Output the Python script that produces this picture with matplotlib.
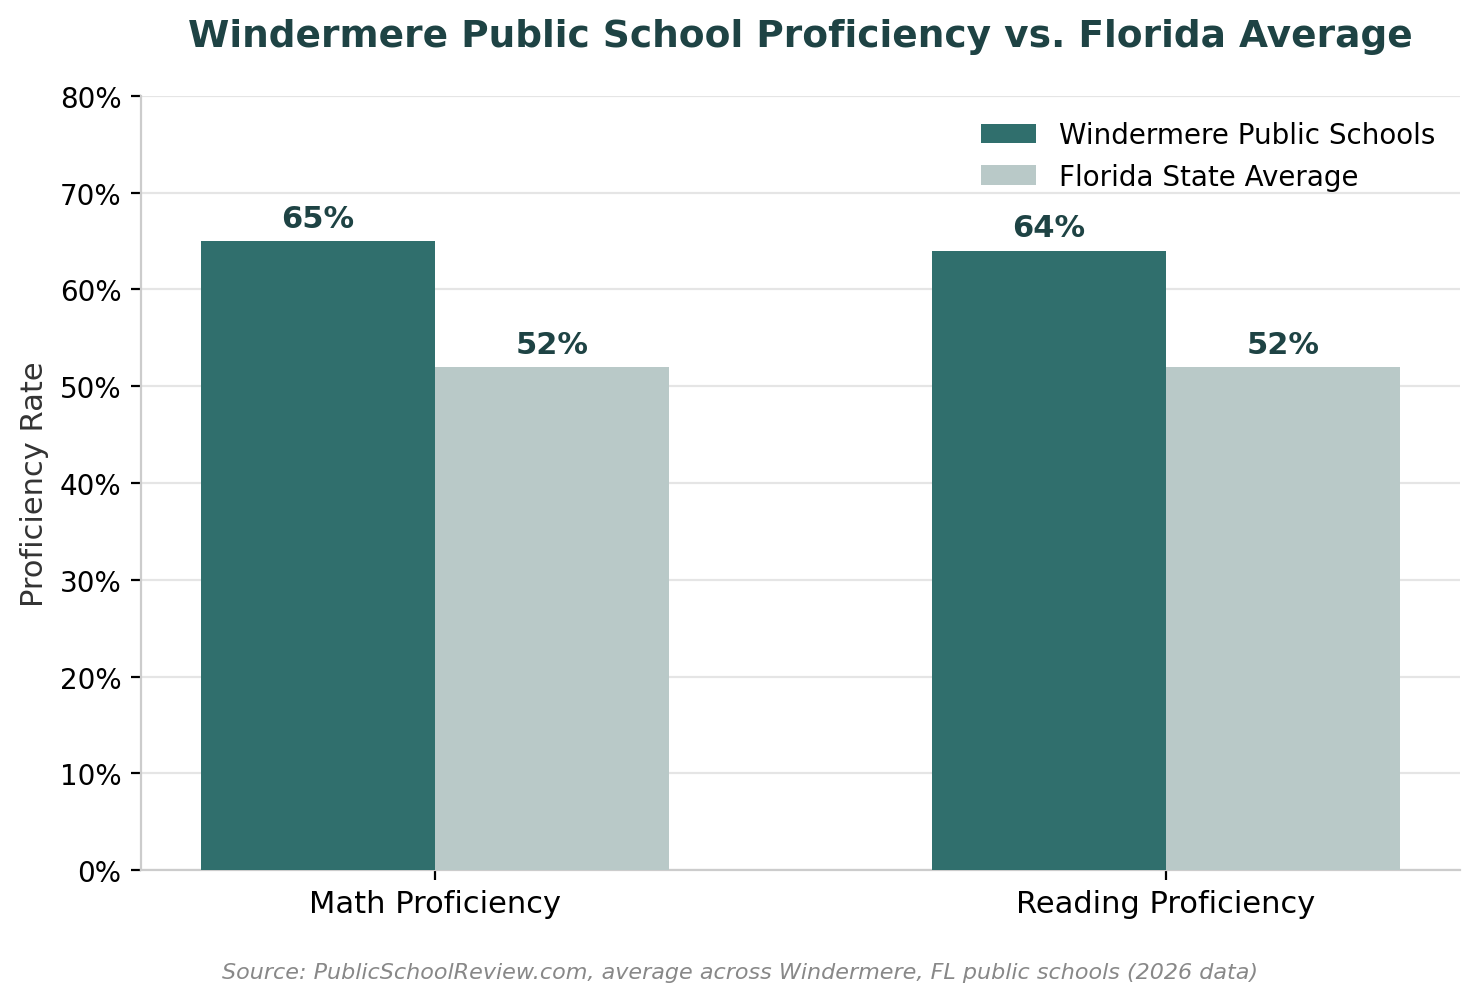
import matplotlib

matplotlib.use("Agg")
import matplotlib.pyplot as plt
import numpy as np
from matplotlib.ticker import PercentFormatter

categories = ["Math Proficiency", "Reading Proficiency"]
windermere = [65, 64]
florida = [52, 52]
series_names = ["Windermere Public Schools", "Florida State Average"]

DARK = "#306f6d"
LIGHT = "#b9c9c8"
TITLE_COLOR = "#1e4344"

fig, ax = plt.subplots(figsize=(7.4, 5.015), dpi=200)
fig.subplots_adjust(left=0.0953, right=0.9865, top=0.9033, bottom=0.1316)

x = np.arange(len(categories))
width = 0.32
b1 = ax.bar(x - width / 2, windermere, width, color=DARK, label=series_names[0], zorder=3)
b2 = ax.bar(x + width / 2, florida, width, color=LIGHT, label=series_names[1], zorder=3)

for bars in (b1, b2):
    for rect in bars:
        h = rect.get_height()
        ax.annotate(f"{h:.0f}%", (rect.get_x() + rect.get_width() / 2, h),
                    xytext=(0, 3), textcoords="offset points",
                    ha="center", va="bottom", fontsize=11, fontweight="bold",
                    color=TITLE_COLOR)

ax.set_ylim(0, 80)
ax.set_yticks(range(0, 81, 10))
ax.yaxis.set_major_formatter(PercentFormatter(decimals=0))
ax.set_xticks(x)
ax.set_xticklabels(categories, fontsize=11)
ax.tick_params(axis="y", labelsize=10)
ax.set_ylabel("Proficiency Rate", fontsize=11, color="#333333")
ax.set_title("Windermere Public School Proficiency vs. Florida Average",
             fontsize=13.5, fontweight="bold", color=TITLE_COLOR, pad=18)

ax.grid(axis="y", color="#e5e5e5", linewidth=0.8, zorder=0)
ax.set_axisbelow(True)
for side in ("top", "right"):
    ax.spines[side].set_visible(False)
for side in ("left", "bottom"):
    ax.spines[side].set_color("#cccccc")

ax.legend(loc="upper right", frameon=False, fontsize=10)

fig.text(0.5, 0.024,
         "Source: PublicSchoolReview.com, average across Windermere, FL public schools (2026 data)",
         ha="center", fontsize=8, style="italic", color="#888888")

fig.savefig("out.png", dpi=200)
